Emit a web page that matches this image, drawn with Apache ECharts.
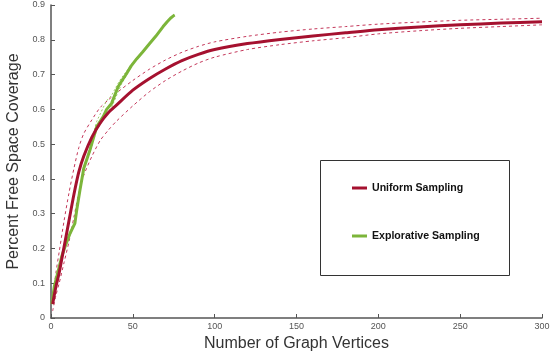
<!DOCTYPE html>
<html>
<head>
<meta charset="utf-8">
<script src="https://cdn.jsdelivr.net/npm/echarts@6/dist/echarts.min.js"></script>
<style>
  html, body { margin: 0; padding: 0; background: #fff; }
  #main { width: 554px; height: 356px; }
</style>
</head>
<body>
<div id="main"></div>
<script>
// uniform sampling: vertices count and coverage (mean, upper / lower bound)
var uniformX = [1, 3, 5, 8, 11, 14, 17, 20, 25, 30, 35, 40, 50, 60, 70, 80, 90, 100, 120, 140, 160, 180, 200, 225, 250, 275, 300];
var uniformMean = [0.04, 0.09, 0.13, 0.205, 0.28, 0.355, 0.42, 0.465, 0.52, 0.56, 0.59, 0.612, 0.655, 0.688, 0.716, 0.74, 0.758, 0.772, 0.789, 0.801, 0.811, 0.82, 0.829, 0.837, 0.843, 0.848, 0.852];
var uniformUpper = [0.06, 0.13, 0.19, 0.28, 0.36, 0.43, 0.49, 0.53, 0.57, 0.605, 0.627, 0.647, 0.683, 0.715, 0.742, 0.764, 0.781, 0.794, 0.81, 0.822, 0.831, 0.838, 0.845, 0.851, 0.856, 0.859, 0.862];
var uniformLower = [0.02, 0.065, 0.1, 0.16, 0.22, 0.29, 0.36, 0.41, 0.465, 0.51, 0.54, 0.566, 0.61, 0.65, 0.683, 0.71, 0.733, 0.75, 0.772, 0.786, 0.797, 0.806, 0.817, 0.826, 0.833, 0.838, 0.843];

// explorative sampling
var exploreX = [0.5, 2, 4.5, 6.5, 8.5, 11.6, 14.6, 15.7, 17.7, 20, 23.8, 27.9, 31.9, 34, 37, 41, 43, 46.2, 49, 52.3, 56, 60.4, 64, 68.5, 71, 73, 74.6, 75.5];
var exploreMean = [0.04, 0.09, 0.137, 0.176, 0.204, 0.243, 0.272, 0.31, 0.368, 0.43, 0.483, 0.55, 0.579, 0.6, 0.617, 0.665, 0.68, 0.703, 0.725, 0.745, 0.765, 0.79, 0.81, 0.838, 0.852, 0.862, 0.868, 0.871];
var exploreUpper = [0.04, 0.09, 0.137, 0.176, 0.204, 0.243, 0.272, 0.31, 0.368, 0.43, 0.49, 0.565, 0.605, 0.625, 0.64, 0.675, 0.69, 0.71, 0.728, 0.747, 0.767, 0.79, 0.81, 0.838, 0.852, 0.862, 0.868, 0.871];
var exploreLower = [0.04, 0.09, 0.137, 0.176, 0.204, 0.243, 0.272, 0.31, 0.368, 0.43, 0.478, 0.54, 0.57, 0.59, 0.605, 0.65, 0.672, 0.698, 0.722, 0.743, 0.763, 0.79, 0.81, 0.838, 0.852, 0.862, 0.868, 0.871];

var xTicks = [0, 50, 100, 150, 200, 250, 300];
var yTicks = [0, 0.1, 0.2, 0.3, 0.4, 0.5, 0.6, 0.7, 0.8, 0.9];

function pairs(xs, ys) {
    return xs.map(function (x, i) { return [x, ys[i]]; });
}

var RED = '#a5112f';
var RED_LIGHT = '#c4375a';
var GREEN = '#7cb53a';
var GREEN_LIGHT = '#9ccc66';
var FONT = 'Liberation Sans, Arial, sans-serif';

function line(name, xs, ys, color, width, dash, z, smooth) {
    return {
        name: name, type: 'line', showSymbol: false,
        smooth: smooth,
        data: pairs(xs, ys),
        color: color,
        lineStyle: { color: color, width: width, type: dash || 'solid', join: 'round' },
        z: z
    };
}

var myChart = echarts.init(document.getElementById('main'));
myChart.setOption({
    animation: false,
    grid: { left: 51, right: 12, top: 5, bottom: 38, outerBoundsMode: 'none' },
    xAxis: {
        type: 'value',
        min: xTicks[0],
        max: xTicks[xTicks.length - 1],
        interval: xTicks[1] - xTicks[0],
        name: 'Number of Graph Vertices',
        nameLocation: 'middle',
        nameGap: 18,
        nameTextStyle: { fontFamily: FONT, fontSize: 16, color: '#333' },
        axisLine: { lineStyle: { color: '#555', width: 1.5 } },
        axisTick: { inside: true, length: 4, lineStyle: { color: '#555' } },
        axisLabel: { fontFamily: FONT, fontSize: 9, color: '#555', margin: 4 },
        splitLine: { show: false }
    },
    yAxis: {
        type: 'value',
        min: yTicks[0],
        max: yTicks[yTicks.length - 1],
        interval: 0.1,
        name: 'Percent Free Space Coverage',
        nameLocation: 'middle',
        nameGap: 20,
        nameTextStyle: { fontFamily: FONT, fontSize: 16, color: '#333' },
        axisLine: { show: true, lineStyle: { color: '#555', width: 1.5 } },
        axisTick: { show: true, inside: true, length: 4, lineStyle: { color: '#555' } },
        axisLabel: { fontFamily: FONT, fontSize: 9, color: '#555', margin: 6 },
        splitLine: { show: false }
    },
    legend: {
        orient: 'vertical',
        left: 347,
        top: 177,
        itemWidth: 15,
        itemHeight: 3,
        itemGap: 36,
        icon: 'rect',
        data: ['Uniform Sampling', 'Explorative Sampling'],
        textStyle: { fontFamily: FONT, fontSize: 10.6, fontWeight: 'bold', color: '#111', lineHeight: 12 }
    },
    graphic: [{
        type: 'rect',
        shape: { x: 320.5, y: 160.5, width: 189, height: 115 },
        style: { fill: 'none', stroke: '#333', lineWidth: 1 },
        z: 0
    }],
    series: [
        line('Uniform upper', uniformX, uniformUpper, RED_LIGHT, 1, [3, 3], 2, 0.25),
        line('Uniform lower', uniformX, uniformLower, RED_LIGHT, 1, [3, 3], 2, 0.25),
        line('Explorative upper', exploreX, exploreUpper, GREEN_LIGHT, 1, [2, 2], 2, false),
        line('Explorative lower', exploreX, exploreLower, GREEN_LIGHT, 1, [2, 2], 2, false),
        line('Uniform Sampling', uniformX, uniformMean, RED, 3, null, 4, 0.25),
        line('Explorative Sampling', exploreX, exploreMean, GREEN, 3, null, 3, false)
    ]
});
</script>
</body>
</html>
